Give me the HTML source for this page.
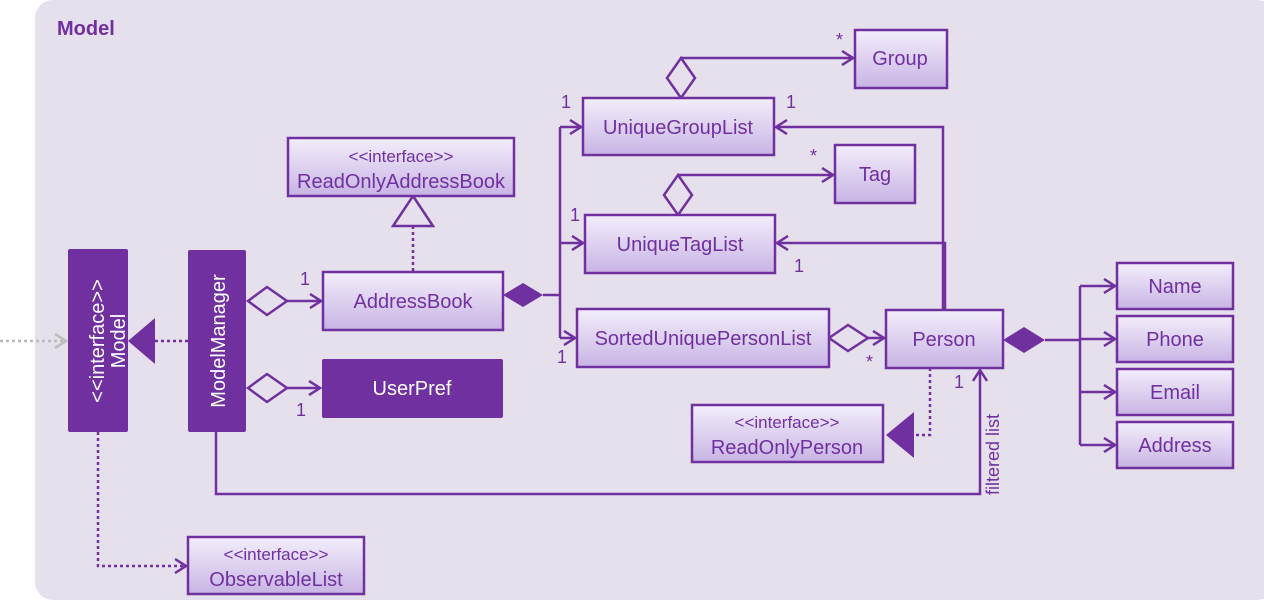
<!DOCTYPE html>
<html><head><style>body{margin:0;background:#fff}svg{display:block}text{font-family:"Liberation Sans","DejaVu Sans",sans-serif}</style></head><body>
<svg width="1264" height="606" viewBox="0 0 1264 606" xmlns="http://www.w3.org/2000/svg">
<defs>
<linearGradient id="g" x1="0" y1="0" x2="0" y2="1"><stop offset="0" stop-color="#f3eefb"/><stop offset="1" stop-color="#c8b4e4"/></linearGradient>
<marker id="a" markerWidth="14" markerHeight="16" refX="12" refY="8" orient="auto" markerUnits="userSpaceOnUse"><path d="M1,1 L12,8 L1,15" fill="none" stroke="#7030a0" stroke-width="2.5"/></marker>
<marker id="ag" markerWidth="14" markerHeight="16" refX="12" refY="8" orient="auto" markerUnits="userSpaceOnUse"><path d="M1,1 L12,8 L1,15" fill="none" stroke="#bbb" stroke-width="2.5"/></marker>
</defs>
<rect x="35" y="0" width="1240" height="600" rx="18" fill="#e6e0ec"/>
<text x="57" y="35" font-size="20" font-weight="bold" fill="#7030a0">Model</text>
<g stroke="#7030a0" stroke-width="2.5" fill="none">
<line x1="0" y1="341" x2="66" y2="341" stroke="#bbb" stroke-dasharray="3,3" marker-end="url(#ag)"/>
<line x1="155" y1="341" x2="188" y2="341" stroke-dasharray="3,3"/>
<line x1="287" y1="301" x2="321" y2="301" marker-end="url(#a)"/>
<line x1="287" y1="388" x2="320" y2="388" marker-end="url(#a)"/>
<line x1="413" y1="226" x2="413" y2="272" stroke-dasharray="3,3"/>
<path d="M543,295 H560 M560,127 V338"/>
<line x1="560" y1="127" x2="581" y2="127" marker-end="url(#a)"/>
<line x1="560" y1="243" x2="583" y2="243" marker-end="url(#a)"/>
<line x1="560" y1="338" x2="575" y2="338" marker-end="url(#a)"/>
<path d="M681,58 H853" marker-end="url(#a)"/>
<path d="M678,175 H833" marker-end="url(#a)"/>
<path d="M943,310 V127 H776" marker-end="url(#a)"/>
<path d="M945,310 V243 H777" marker-end="url(#a)"/>
<line x1="868" y1="338" x2="884" y2="338" marker-end="url(#a)"/>
<path d="M1045,340 H1080 M1080,286 V445"/>
<line x1="1080" y1="286" x2="1115" y2="286" marker-end="url(#a)"/>
<line x1="1080" y1="339" x2="1115" y2="339" marker-end="url(#a)"/>
<line x1="1080" y1="392" x2="1115" y2="392" marker-end="url(#a)"/>
<line x1="1080" y1="445" x2="1115" y2="445" marker-end="url(#a)"/>
<path d="M930,368 V435 H914" stroke-dasharray="3,3"/>
<path d="M216,432 V494 H980 V370" marker-end="url(#a)"/>
<path d="M98,432 V566 H186" stroke-dasharray="3,3" marker-end="url(#a)"/>
</g>
<g fill="#7030a0">
<path d="M128,341 L155,318 L155,364 Z"/>
<path d="M886,435 L914,412 L914,458 Z"/>
<path d="M503,295 L523,283 L543,295 L523,307 Z"/>
<path d="M1003,340 L1024,327 L1045,340 L1024,353 Z"/>
</g>
<g fill="#e6e0ec" stroke="#7030a0" stroke-width="2.5">
<path d="M248,301 L267,287 L287,301 L267,315 Z"/>
<path d="M248,388 L267,374 L287,388 L267,402 Z"/>
<path d="M413,196 L433,226 L393,226 Z"/>
<path d="M681,58 L695,78 L681,98 L667,78 Z"/>
<path d="M678,175 L692,195 L678,215 L664,195 Z"/>
<path d="M829,338 L848,325 L868,338 L848,351 Z"/>
</g>
<g fill="url(#g)" stroke="#7030a0" stroke-width="2.5">
<rect x="288" y="138" width="226" height="58"/>
<rect x="323" y="272" width="180" height="58"/>
<rect x="855" y="30" width="92" height="58"/>
<rect x="583" y="98" width="191" height="57"/>
<rect x="835" y="145" width="80" height="58"/>
<rect x="585" y="215" width="190" height="58"/>
<rect x="577" y="309" width="252" height="58"/>
<rect x="886" y="310" width="117" height="58"/>
<rect x="1117" y="263" width="116" height="46"/>
<rect x="1117" y="316" width="116" height="46"/>
<rect x="1117" y="369" width="116" height="46"/>
<rect x="1117" y="422" width="116" height="46"/>
<rect x="692" y="405" width="191" height="57"/>
<rect x="188" y="537" width="176" height="57"/>
</g>
<g fill="#7030a0">
<rect x="68" y="249" width="60" height="183" rx="2"/>
<rect x="188" y="250" width="58" height="182" rx="2"/>
<rect x="322" y="359" width="181" height="59" rx="2"/>
</g>
<g fill="#fff" font-size="20" text-anchor="middle">
<text transform="translate(104,341) rotate(-90)">&lt;&lt;interface&gt;&gt;</text>
<text transform="translate(125,341) rotate(-90)">Model</text>
<text transform="translate(225,341) rotate(-90)">ModelManager</text>
<text x="412" y="395">UserPref</text>
</g>
<g fill="#7030a0" font-size="20" text-anchor="middle">
<text x="401" y="162" font-size="17">&lt;&lt;interface&gt;&gt;</text>
<text x="401" y="188">ReadOnlyAddressBook</text>
<text x="413" y="308">AddressBook</text>
<text x="900" y="65">Group</text>
<text x="678" y="134">UniqueGroupList</text>
<text x="875" y="181">Tag</text>
<text x="680" y="251">UniqueTagList</text>
<text x="703" y="345">SortedUniquePersonList</text>
<text x="944" y="346">Person</text>
<text x="1175" y="293">Name</text>
<text x="1175" y="346">Phone</text>
<text x="1175" y="399">Email</text>
<text x="1175" y="452">Address</text>
<text x="787" y="428" font-size="17">&lt;&lt;interface&gt;&gt;</text>
<text x="787" y="454">ReadOnlyPerson</text>
<text x="276" y="560" font-size="17">&lt;&lt;interface&gt;&gt;</text>
<text x="276" y="586">ObservableList</text>
</g>
<g fill="#7030a0" font-size="18">
<text x="300" y="285">1</text>
<text x="296" y="416">1</text>
<text x="561" y="108">1</text>
<text x="570" y="221">1</text>
<text x="557" y="363">1</text>
<text x="786" y="108">1</text>
<text x="794" y="272">1</text>
<text x="836" y="46">*</text>
<text x="810" y="162">*</text>
<text x="866" y="368">*</text>
<text x="954" y="388">1</text>
<text transform="translate(999,495) rotate(-90)">filtered list</text>
</g>
</svg>
</body></html>
